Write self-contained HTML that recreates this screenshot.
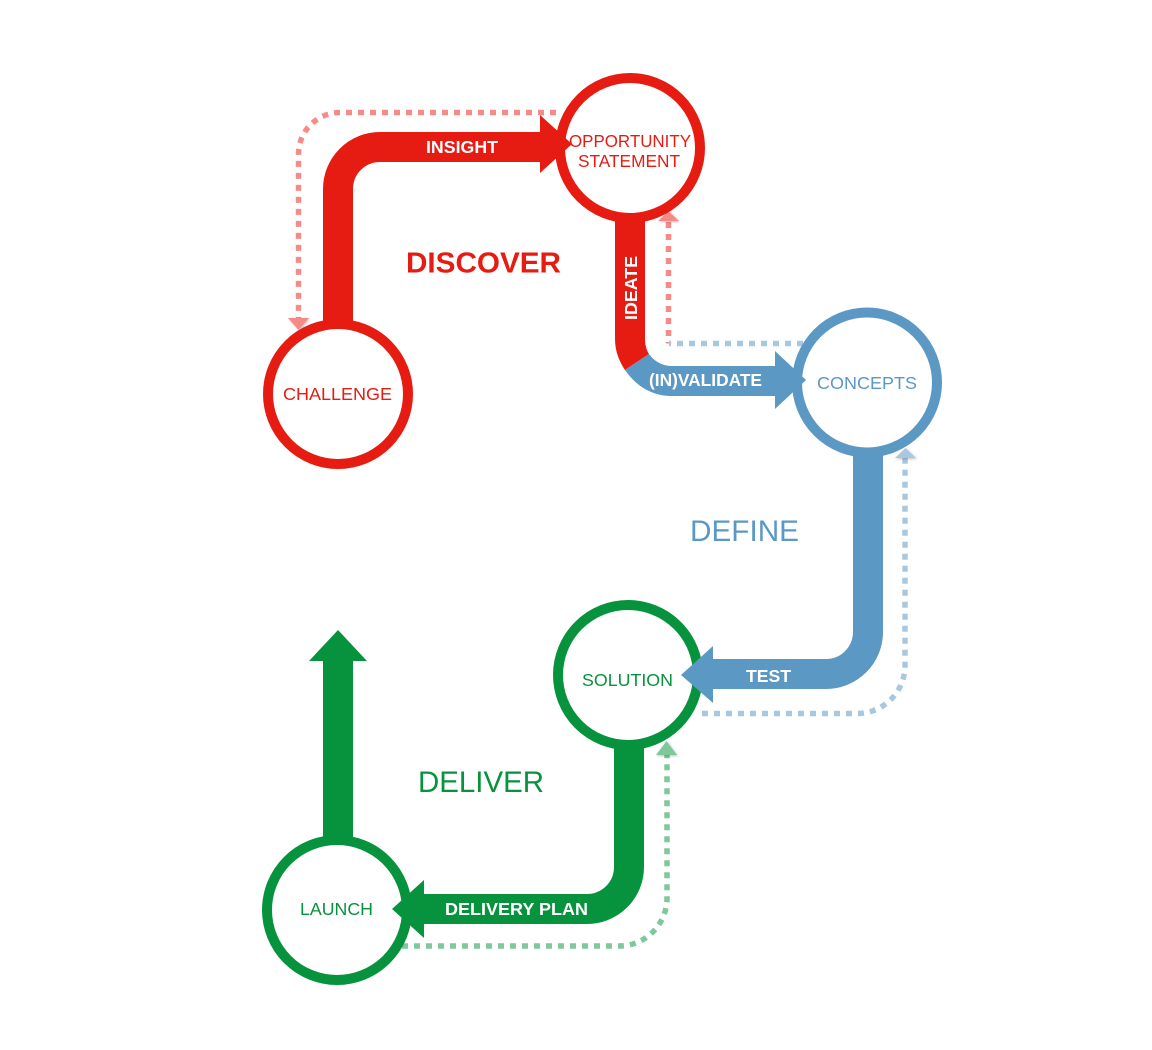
<!DOCTYPE html>
<html>
<head>
<meta charset="utf-8">
<style>
html,body{margin:0;padding:0;background:#fff;width:1152px;height:1050px;overflow:hidden}
svg{display:block}
text{font-family:"Liberation Sans",Arial,sans-serif}
</style>
</head>
<body>
<svg width="1152" height="1050" viewBox="0 0 1152 1050" xmlns="http://www.w3.org/2000/svg">
<defs>
<filter id="s" x="-40%" y="-40%" width="180%" height="180%"><feDropShadow dx="1" dy="1" stdDeviation="1.2" flood-color="#000" flood-opacity=".25"/></filter>
</defs>
<g fill="none" stroke-width="5.500" stroke-dasharray="6 6">
<path d="M556 112.500H340A41.500 41.500 0 0 0 298.500 154V320" stroke="#f58b87"/>
<path d="M668.500 222V343.500" stroke="#f58b87"/>
<path d="M803 343.500H669" stroke="#a8c8df"/>
<path d="M702 713.500H857A48 48 0 0 0 905 665.500V458" stroke="#a8c8df"/>
<path d="M402 946H619A48 48 0 0 0 667 898V755" stroke="#7fc89c"/>
</g>
<path d="M288 318H309L298.500 330Z" fill="#f58b87" filter="url(#s)"/>
<path d="M658 221L668.500 211L679 221Z" fill="#f58b87" filter="url(#s)"/>
<path d="M895 458L905.500 448L916 458Z" fill="#a8c8df" filter="url(#s)"/>
<path d="M656 755L666.500 741L677 755Z" fill="#7fc89c" filter="url(#s)"/>
<g fill="none" stroke-width="30">
<path d="M338 330V189A42 42 0 0 1 380 147H545" stroke="#e61c13"/>
<path d="M868 450V632A42 42 0 0 1 826 674H710" stroke="#5b98c3"/>
<path d="M629 740V867A42 42 0 0 1 587 909H420" stroke="#07923e"/>
<path d="M338 845V655" stroke="#07923e"/>
</g>
<path d="M615 215V339C615 351 619 361 625 370L649 354C646.500 350 645 345 645 339V215Z" fill="#e61c13"/>
<path d="M625 370L649 354C654 361 662 366 672 366H780V396H672C652 396 636 386 625 370Z" fill="#5b98c3"/>
<path d="M309 661L338 630L367 661Z" fill="#07923e"/>
<g fill="#fff" stroke-width="10">
<circle cx="338" cy="394" r="70" stroke="#e61c13"/>
<circle cx="630" cy="148" r="70" stroke="#e61c13"/>
<circle cx="867" cy="382.500" r="70" stroke="#5b98c3"/>
<circle cx="628" cy="675" r="70" stroke="#07923e"/>
<circle cx="337" cy="910" r="70" stroke="#07923e"/>
</g>
<path d="M540 115L572 144L540 173Z" fill="#e61c13"/>
<path d="M775 351L806 380L775 409Z" fill="#5b98c3"/>
<path d="M713 646L681 675L713 703Z" fill="#5b98c3"/>
<path d="M424 880L392 909L424 938Z" fill="#07923e"/>
<g font-size="17.500" fill="#e61c13">
<text x="283" y="400" textLength="109" lengthAdjust="spacingAndGlyphs">CHALLENGE</text>
<text x="569" y="147" textLength="122" lengthAdjust="spacingAndGlyphs">OPPORTUNITY</text>
<text x="578" y="167" textLength="102" lengthAdjust="spacingAndGlyphs">STATEMENT</text>
</g>
<text x="817" y="389" font-size="17.500" fill="#5b98c3" textLength="100" lengthAdjust="spacingAndGlyphs">CONCEPTS</text>
<text x="582" y="686" font-size="17.500" fill="#07923e" textLength="91" lengthAdjust="spacingAndGlyphs">SOLUTION</text>
<text x="300" y="915" font-size="17.500" fill="#07923e" textLength="73" lengthAdjust="spacingAndGlyphs">LAUNCH</text>
<text x="406" y="272.500" font-size="29" font-weight="700" fill="#e61c13" textLength="155" lengthAdjust="spacingAndGlyphs">DISCOVER</text>
<text x="690" y="541" font-size="30" fill="#5b98c3" textLength="109" lengthAdjust="spacingAndGlyphs">DEFINE</text>
<text x="418" y="792" font-size="30" fill="#07923e" textLength="126" lengthAdjust="spacingAndGlyphs">DELIVER</text>
<g font-size="17.500" font-weight="700" fill="#fff">
<text x="426" y="153" textLength="72" lengthAdjust="spacingAndGlyphs">INSIGHT</text>
<text transform="translate(637 320) rotate(-90)" x="0" y="0" textLength="64" lengthAdjust="spacingAndGlyphs">IDEATE</text>
<text x="649" y="386" textLength="113" lengthAdjust="spacingAndGlyphs">(IN)VALIDATE</text>
<text x="746" y="682" textLength="45" lengthAdjust="spacingAndGlyphs">TEST</text>
<text x="445" y="915" textLength="143" lengthAdjust="spacingAndGlyphs">DELIVERY PLAN</text>
</g>
</svg>
</body>
</html>
